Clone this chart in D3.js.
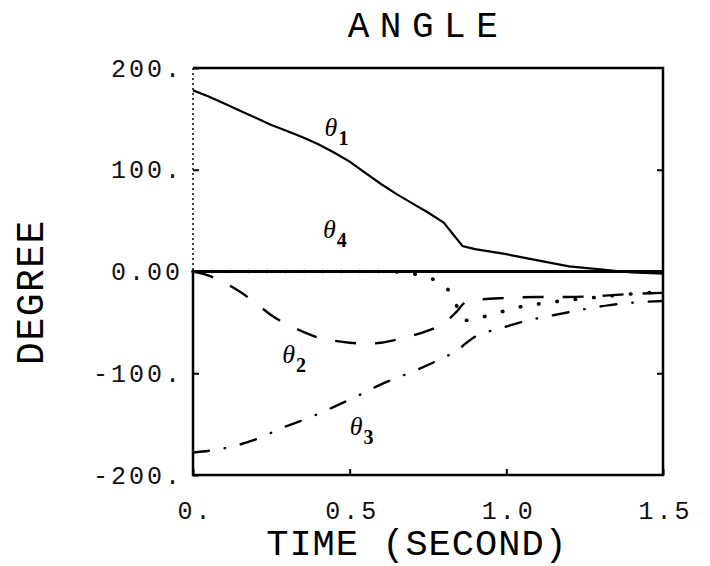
<!DOCTYPE html>
<html>
<head>
<meta charset="utf-8">
<script src="https://cdnjs.cloudflare.com/ajax/libs/d3/7.8.5/d3.min.js"></script>
<style>
    body { margin: 0; background: #fff; }
</style>
</head>
<body>
<div id="angle-chart"></div>
<script>
var timeTicks = [0, 0.5, 1.0, 1.5];
var timeTickLabels = ['0.', '0.5', '1.0', '1.5'];
var degreeTicks = [-200, -100, 0, 100, 200];
var degreeTickLabels = ['-200.', '-100.', '0.00', '100.', '200.'];

// theta 1, solid
var theta1Time = [0, 0.05, 0.1, 0.15, 0.2, 0.25, 0.3, 0.35, 0.4, 0.45, 0.5, 0.55, 0.6, 0.65, 0.7, 0.75, 0.8, 0.86, 0.9, 1.0, 1.1, 1.2, 1.3, 1.4, 1.5];
var theta1Deg = [178, 172, 165, 158, 151, 144, 138, 132, 125, 117, 108, 97, 86, 76, 67, 58, 48, 25, 22, 17, 11, 5, 2, -1, -2];

// theta 2, dashed
var theta2Time = [0, 0.05, 0.1, 0.15, 0.2, 0.25, 0.3, 0.35, 0.4, 0.45, 0.5, 0.55, 0.6, 0.65, 0.7, 0.75, 0.8, 0.84, 0.87, 0.9, 1.0, 1.1, 1.2, 1.3, 1.4, 1.5];
var theta2Deg = [0, -4, -11, -20, -31, -43, -52, -59, -65, -68, -70, -71, -70, -67, -63, -58, -51, -40, -30, -28, -26, -25, -25, -24, -22, -21];

// theta 3, dash-dot
var theta3Time = [0, 0.125, 0.2, 0.29, 0.36, 0.45, 0.52, 0.6, 0.68, 0.77, 0.84, 0.9, 0.98, 1.07, 1.15, 1.25, 1.33, 1.43, 1.5];
var theta3Deg = [-178, -172, -165, -153, -145, -133, -123, -111, -101, -89, -78, -64, -56, -48, -43, -37, -33, -30, -29];

// theta 4, dotted
var theta4Time = [0, 0.3, 0.6, 0.66, 0.72, 0.78, 0.82, 0.87, 0.92, 0.98, 1.04, 1.1, 1.2, 1.3, 1.4, 1.5];
var theta4Deg = [0, 0, 0, -0.5, -3.5, -10, -20, -48, -45, -40, -35, -32, -28, -25, -22, -20];

var labelNames = ['1', '2', '3', '4'];
var labelTime = [0.42, 0.285, 0.5, 0.415];
var labelDeg = [133, -90, -161, 33];

var AngleChart = {
    width: 710,
    height: 566,
    left: 193,
    right: 663,
    top: 68,
    bottom: 475,
    monoFont: '"Liberation Mono", "DejaVu Sans Mono", monospace',
    canvas: '',
    x: '',
    y: '',
    draw: function () {
        this.defineCanvas()
            .defineScales()
            .drawFrame()
            .drawAxes()
            .drawSeries()
            .drawLabels()
            .drawTitles();
    },
    defineCanvas: function () {
        this.canvas = d3.select('#angle-chart')
            .append('svg')
            .attr('width', this.width)
            .attr('height', this.height)
            .style('display', 'block');

        return this;
    },
    defineScales: function () {
        this.x = d3.scaleLinear().domain([0, 1.5]).range([this.left, this.right]);
        this.y = d3.scaleLinear().domain([-200, 200]).range([this.bottom, this.top]);

        return this;
    },
    drawFrame: function () {
        var g = this.canvas.append('g').attr('fill', 'none').attr('stroke', '#000');

        g.append('path')
            .attr('d', 'M' + this.left + ',' + this.top + 'H' + this.right + 'V' + this.bottom + 'H' + this.left + 'V' + this.y(0))
            .attr('stroke-width', 2.5);

        // upper part of the left edge is faint in the scan
        g.append('line')
            .attr('x1', this.left).attr('x2', this.left)
            .attr('y1', this.top).attr('y2', this.y(0))
            .attr('stroke-width', 1.5)
            .attr('stroke-dasharray', '2,3');

        g.append('line')
            .attr('x1', this.left).attr('x2', this.right)
            .attr('y1', this.y(0)).attr('y2', this.y(0))
            .attr('stroke-width', 3);

        return this;
    },
    drawAxes: function () {
        var xAxis = d3.axisBottom(this.x)
            .tickValues(timeTicks)
            .tickFormat(function (d, i) { return timeTickLabels[i]; })
            .tickSizeInner(-6)
            .tickSizeOuter(0)
            .tickPadding(26);

        var yAxis = d3.axisLeft(this.y)
            .tickValues(degreeTicks)
            .tickFormat(function (d, i) { return degreeTickLabels[i]; })
            .tickSizeInner(-6)
            .tickSizeOuter(0)
            .tickPadding(10);

        var yRight = d3.axisRight(this.y)
            .tickValues([-100, 100])
            .tickFormat('')
            .tickSizeInner(-6)
            .tickSizeOuter(0);

        var gx = this.canvas.append('g')
            .attr('transform', 'translate(0,' + this.bottom + ')')
            .call(xAxis);
        var gy = this.canvas.append('g')
            .attr('transform', 'translate(' + this.left + ',0)')
            .call(yAxis);
        var gr = this.canvas.append('g')
            .attr('transform', 'translate(' + this.right + ',0)')
            .call(yRight);

        [gx, gy, gr].forEach(function (g) {
            g.select('.domain').remove();
            g.selectAll('.tick line').attr('stroke', '#000').attr('stroke-width', 2);
            g.selectAll('.tick text')
                .attr('fill', '#111')
                .style('font-family', AngleChart.monoFont)
                .style('font-size', '25px')
                .style('letter-spacing', '3px');
        });
        gx.selectAll('.tick text').attr('dx', '2px');

        return this;
    },
    lineFor: function (times, degs, curve) {
        var x = this.x, y = this.y;
        var line = d3.line()
            .x(function (d) { return x(times[d]); })
            .y(function (d) { return y(degs[d]); })
            .curve(curve);

        return line(d3.range(times.length));
    },
    drawSeries: function () {
        var g = this.canvas.append('g').attr('fill', 'none').attr('stroke', '#000');

        g.append('path')
            .attr('d', this.lineFor(theta1Time, theta1Deg, d3.curveLinear))
            .attr('stroke-width', 2.2);

        g.append('path')
            .attr('d', this.lineFor(theta2Time, theta2Deg, d3.curveMonotoneX))
            .attr('stroke-width', 2.4)
            .attr('stroke-dasharray', '21,19');

        g.append('path')
            .attr('d', this.lineFor(theta3Time, theta3Deg, d3.curveMonotoneX))
            .attr('stroke-width', 2.4)
            .attr('stroke-linecap', 'round')
            .attr('stroke-dasharray', '16,16,0.5,16');

        g.append('path')
            .attr('d', this.lineFor(theta4Time, theta4Deg, d3.curveMonotoneX))
            .attr('stroke-width', 3.6)
            .attr('stroke-linecap', 'round')
            .attr('stroke-dasharray', '0.5,18');

        return this;
    },
    drawLabels: function () {
        var x = this.x, y = this.y;
        var labels = this.canvas.append('g')
            .selectAll('text')
            .data(labelNames)
            .enter()
            .append('text')
            .attr('x', function (d, i) { return x(labelTime[i]); })
            .attr('y', function (d, i) { return y(labelDeg[i]); })
            .attr('fill', '#000')
            .style('font-family', '"Liberation Serif", serif');

        labels.append('tspan')
            .style('font-size', '26px')
            .style('font-style', 'italic')
            .text('\u03b8');
        labels.append('tspan')
            .attr('dy', 9)
            .attr('dx', 1)
            .style('font-size', '20px')
            .style('font-weight', 'bold')
            .text(function (d) { return d; });

        return this;
    },
    drawTitles: function () {
        var font = this.monoFont;

        this.canvas.append('text')
            .attr('x', 428)
            .attr('y', 37)
            .attr('text-anchor', 'middle')
            .style('font-family', font)
            .style('font-size', '36px')
            .style('letter-spacing', '10.5px')
            .text('ANGLE');

        this.canvas.append('text')
            .attr('transform', 'translate(43,292) rotate(-90)')
            .attr('text-anchor', 'middle')
            .style('font-family', font)
            .style('font-size', '38px')
            .style('letter-spacing', '1.5px')
            .text('DEGREE');

        this.canvas.append('text')
            .attr('x', 417)
            .attr('y', 555)
            .attr('text-anchor', 'middle')
            .style('font-family', font)
            .style('font-size', '37px')
            .style('letter-spacing', '1px')
            .text('TIME (SECOND)');

        return this;
    }
};

AngleChart.draw();
</script>
</body>
</html>
